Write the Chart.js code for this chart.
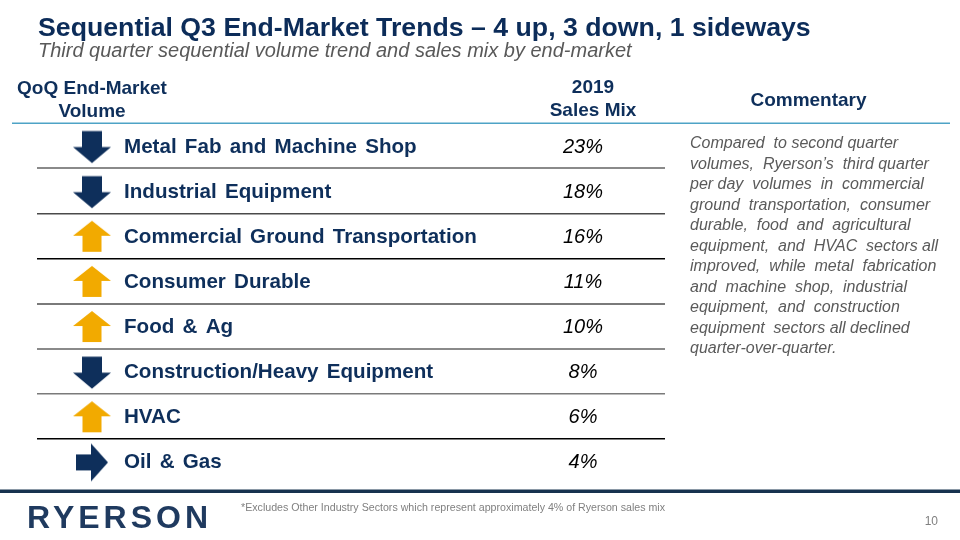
<!DOCTYPE html>
<html><head><meta charset="utf-8">
<script src="https://cdn.jsdelivr.net/npm/chart.js@4.4.1/dist/chart.umd.min.js"></script>
<style>html,body{margin:0;padding:0;background:#fff;}#wrap{width:960px;height:540px;position:relative;}</style>
</head><body><div id="wrap"><canvas id="c" width="960" height="540"></canvas></div>
<script>
// ---------- data ----------
const categories = ['Metal Fab and Machine Shop','Industrial Equipment','Commercial Ground Transportation','Consumer Durable','Food & Ag','Construction/Heavy Equipment','HVAC','Oil & Gas'];
const salesMix = [23, 18, 16, 11, 10, 8, 6, 4];
const trends = ['down','down','up','up','up','down','up','side'];
const titleText = 'Sequential Q3 End-Market Trends \u2013 4 up, 3 down, 1 sideways';
const subtitleText = 'Third quarter sequential volume trend and sales mix by end-market';
const headerVolume = ['QoQ End-Market', 'Volume'];
const headerMix = ['2019', 'Sales Mix'];
const headerCommentary = 'Commentary';
const commentaryLines = [
  'Compared  to second quarter',
  'volumes,  Ryerson\u2019s  third quarter',
  'per day  volumes  in  commercial',
  'ground  transportation,  consumer',
  'durable,  food  and  agricultural',
  'equipment,  and  HVAC  sectors all',
  'improved,  while  metal  fabrication',
  'and  machine  shop,  industrial',
  'equipment,  and  construction',
  'equipment  sectors all declined',
  'quarter-over-quarter.'
];
const footnoteText = '*Excludes Other Industry Sectors which represent approximately 4% of Ryerson sales mix';
const logoText = 'RYERSON';
const pageNumber = '10';

// ---------- styles / layout ----------
const NAVY = '#0e2f5b', GOLD = '#f2aa00', FONT = '"Liberation Sans", Arial, sans-serif';
const ARROW_COL = 55, LABEL_COL = 87, PCT_COL = 546;

function makeArrow(dir) {
  const c = document.createElement('canvas'); c.width = 44; c.height = 44;
  const g = c.getContext('2d');
  g.fillStyle = dir === 'up' ? GOLD : NAVY;
  g.beginPath();
  if (dir === 'down') {
    g.moveTo(12, 7.5); g.lineTo(32, 7.5); g.lineTo(32, 23.5); g.lineTo(41, 23.5);
    g.lineTo(22, 39.5); g.lineTo(3, 23.5); g.lineTo(12, 23.5);
  } else if (dir === 'up') {
    g.moveTo(22, 7); g.lineTo(41, 22); g.lineTo(31.5, 22); g.lineTo(31.5, 38);
    g.lineTo(12.5, 38); g.lineTo(12.5, 22); g.lineTo(3, 22);
  } else {
    g.moveTo(6, 15); g.lineTo(21, 15); g.lineTo(21, 4); g.lineTo(38, 23);
    g.lineTo(21, 42); g.lineTo(21, 31); g.lineTo(6, 31);
  }
  g.closePath(); g.fill();
  return c;
}
const arrowImgs = { up: makeArrow('up'), down: makeArrow('down'), side: makeArrow('side') };

const sepColors = [null, '#8a8a8a', '#4a4a4a', '#000000', '#7a7a7a', '#8a8a8a', '#7a7a7a', '#000000', null];
const sepWidths = [0, 2, 1.5, 1.5, 2, 2, 1.5, 1.5, 0];

const slidePlugin = {
  id: 'slide',
  beforeDraw(chart) {
    const ctx = chart.ctx;
    ctx.save();
    ctx.fillStyle = '#ffffff';
    ctx.fillRect(0, 0, chart.width, chart.height);
    ctx.restore();
  },
  afterDraw(chart) {
    const ctx = chart.ctx, xs = chart.scales.x, ys = chart.scales.y, ca = chart.chartArea;
    ctx.save();
    ctx.textBaseline = 'alphabetic';
    // title
    ctx.fillStyle = '#0c2c59';
    ctx.font = 'bold 26.7px ' + FONT;
    ctx.textAlign = 'left';
    ctx.fillText(titleText, 38, 36);
    ctx.fillStyle = '#595959';
    ctx.font = 'italic 20px ' + FONT;
    ctx.fillText(subtitleText, 38, 57);
    // headers
    ctx.fillStyle = NAVY;
    ctx.font = 'bold 19px ' + FONT;
    ctx.textAlign = 'center';
    ctx.fillText(headerVolume[0], xs.getPixelForValue(ARROW_COL), 94);
    ctx.fillText(headerVolume[1], xs.getPixelForValue(ARROW_COL), 116.5);
    ctx.fillText(headerMix[0], xs.getPixelForValue(PCT_COL) + 10, 92.7);
    ctx.fillText(headerMix[1], xs.getPixelForValue(PCT_COL) + 10, 115.7);
    ctx.fillText(headerCommentary, 808.5, 106);
    // header rule
    ctx.strokeStyle = '#4ea3c6';
    ctx.lineWidth = 1.5;
    ctx.beginPath(); ctx.moveTo(12, ca.top + 0.3); ctx.lineTo(950, ca.top + 0.3); ctx.stroke();
    // row labels and sales mix
    categories.forEach((cat, i) => {
      const y = ys.getPixelForValue(i) + 7;
      ctx.fillStyle = NAVY;
      ctx.font = 'bold 20.6px ' + FONT;
      ctx.textAlign = 'left';
      ctx.wordSpacing = '2.5px';
      ctx.fillText(cat, xs.getPixelForValue(LABEL_COL), y);
      ctx.wordSpacing = '0px';
      ctx.fillStyle = '#000000';
      ctx.font = 'italic 20px ' + FONT;
      ctx.textAlign = 'center';
      ctx.fillText(salesMix[i] + '%', xs.getPixelForValue(PCT_COL), y);
    });
    // commentary
    ctx.fillStyle = '#5a5a5a';
    ctx.font = 'italic 16px ' + FONT;
    ctx.textAlign = 'left';
    commentaryLines.forEach((line, i) => ctx.fillText(line, 690, 148 + i * 20.5));
    // footer
    ctx.fillStyle = '#17324f';
    ctx.fillRect(0, 489.5, 960, 3.5);
    ctx.fillStyle = '#1f3a5f';
    ctx.font = 'bold 32px ' + FONT;
    ctx.letterSpacing = '4px';
    ctx.fillText(logoText, 27, 528);
    ctx.letterSpacing = '0px';
    ctx.fillStyle = '#808080';
    ctx.font = '10.65px ' + FONT;
    ctx.fillText(footnoteText, 241, 511);
    ctx.font = '12px ' + FONT;
    ctx.textAlign = 'right';
    ctx.fillText(pageNumber, 938, 525);
    ctx.restore();
  }
};

new Chart(document.getElementById('c'), {
  type: 'scatter',
  data: {
    datasets: [{
      data: categories.map((c) => ({ x: ARROW_COL, y: c })),
      pointStyle: trends.map(t => arrowImgs[t]),
      pointRadius: 16,
      clip: false
    }]
  },
  options: {
    responsive: false,
    animation: false,
    events: [],
    layout: { padding: { top: 123, bottom: 56, left: 37, right: 295 } },
    plugins: { legend: { display: false }, tooltip: { enabled: false }, title: { display: false } },
    scales: {
      x: { type: 'linear', min: 0, max: 628, display: false },
      y: {
        type: 'category', labels: categories, offset: true,
        ticks: { display: false },
        border: { display: false },
        grid: {
          offset: true, drawTicks: false,
          color: (c) => sepColors[c.index] || 'rgba(0,0,0,0)',
          lineWidth: (c) => sepWidths[c.index] || 0
        }
      }
    }
  },
  plugins: [slidePlugin]
});
</script></body></html>
